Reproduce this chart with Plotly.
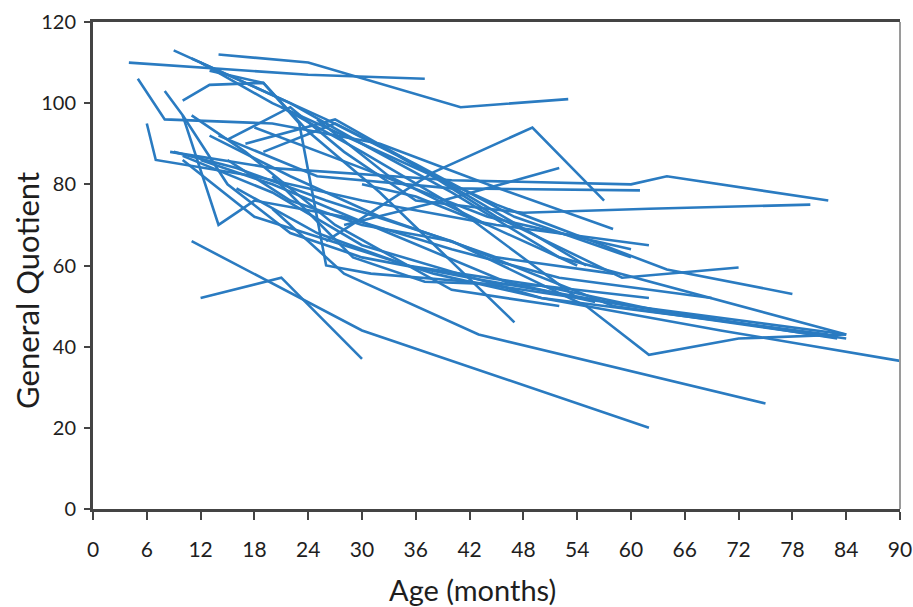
import plotly.graph_objects as go

# Each child's assessment ages (months) and General Quotient values
child_ages = [
    [4, 24, 37],
    [14, 24, 41, 53],
    [9, 14, 22, 30, 40, 52, 84],
    [11, 18, 26, 34, 42, 55],
    [5, 8, 20, 32, 44, 58],
    [6, 7, 18, 30, 45, 62],
    [8, 10, 15, 22, 30, 42, 60, 84],
    [10, 13, 19, 24, 32, 40, 47],
    [8.6, 20, 40, 60, 64, 82],
    [11, 30, 62],
    [12, 21, 30],
    [10, 14, 18, 28, 40, 52, 69],
    [26, 38, 49, 57],
    [28, 39, 52],
    [14, 25, 40, 61],
    [15, 22, 28, 36, 48, 62, 80],
    [17, 27, 35, 45, 59, 72],
    [12, 20, 30, 45, 64, 78],
    [13, 19, 23, 26, 31, 42, 60, 83],
    [9, 16, 26, 40, 55, 62, 72, 84],
    [10, 20, 30, 50, 70, 90],
    [20, 28, 43, 75],
    [16, 25, 35, 50, 65, 84],
    [10, 18, 28, 38, 50, 82],
    [13, 22, 32, 45, 58],
    [18, 30, 44, 60],
    [11, 17, 27, 40, 52],
    [20, 29, 37, 50, 62],
    [25, 33, 44],
    [15, 22, 30, 40, 58, 82],
    [19, 27, 36, 47, 60],
    [12, 20, 33, 46, 56],
    [21, 30, 40, 54],
    [30, 36, 44, 54],
]
child_gq = [
    [110, 107, 106],
    [112, 110, 99, 101],
    [113, 108, 100, 90, 78, 62, 43],
    [111, 104, 96, 87, 77, 60],
    [106, 96, 95, 90, 80, 69],
    [95, 86, 82, 76, 70, 65],
    [103, 97, 80, 68, 62, 57, 50, 43],
    [100.6, 104.5, 105, 93, 78, 61, 46],
    [88, 84, 81, 80, 82, 76],
    [66, 44, 20],
    [52, 57, 37],
    [97, 70, 76, 72, 64, 57, 52],
    [66, 83, 94, 76],
    [70, 76, 84],
    [92, 82, 79, 78.5],
    [91, 99, 88, 76, 73, 74, 75],
    [90, 96, 86, 72, 57, 59.5],
    [110, 100, 90, 75, 59, 53],
    [108, 105, 95, 60, 58, 56, 50, 42],
    [88, 84, 76, 66, 50, 38, 42, 43],
    [87, 78, 65, 52, 44, 36.5],
    [74, 58, 43, 26],
    [79, 68, 60, 55, 48, 42],
    [86, 72, 65, 58, 52, 43],
    [92, 82, 72, 62, 58],
    [94, 84, 72, 64],
    [97, 88, 70, 54, 50],
    [82, 62, 56, 55, 52],
    [96, 82, 70],
    [86, 76, 70, 66, 50, 42.5],
    [88, 95, 85, 72, 62],
    [86, 80, 68, 56, 51],
    [99, 88, 75, 52],
    [80, 77, 70, 60],
]

x_ticks = list(range(0, 91, 6))
y_ticks = list(range(0, 121, 20))

LINE_COLOR = "#2a7bc1"
FONT = "Lato"
TEXT = "#1e1e1e"

W, H = 913, 607
PL, PR, PT, PB = 93, 900, 21.5, 509.5
PW, PH = PR - PL, PB - PT

fig = go.Figure()
for ages, gq in zip(child_ages, child_gq):
    fig.add_trace(go.Scatter(
        x=ages, y=gq, mode="lines",
        line=dict(color=LINE_COLOR, width=2.6),
        hoverinfo="x+y", showlegend=False,
    ))

fig.update_layout(
    width=W, height=H,
    margin=dict(l=PL, r=W - PR, t=PT, b=H - PB),
    paper_bgcolor="white", plot_bgcolor="white",
    font=dict(family=FONT, color=TEXT),
    shapes=[dict(type="line", xref="paper", yref="paper", x0=1, x1=1, y0=0, y1=1,
                 line=dict(color="#9a9a9a", width=2))],
    annotations=[
        dict(text="Age (months)", xref="paper", yref="paper",
             x=(472 - PL) / PW, y=-(590 - PB) / PH, xanchor="center", yanchor="middle",
             showarrow=False, font=dict(size=29, family=FONT, color=TEXT)),
        dict(text="General Quotient", xref="paper", yref="paper",
             x=-(PL - 27) / PW, y=(PB - 291) / PH, xanchor="center", yanchor="middle",
             textangle=-90, showarrow=False, font=dict(size=31, family=FONT, color=TEXT)),
    ],
)
fig.update_xaxes(
    range=[0, 90], tickvals=x_ticks, ticktext=[str(v) for v in x_ticks],
    showgrid=False, zeroline=False, automargin=False,
    showline=True, linecolor="#444", linewidth=3, mirror=True,
    ticks="outside", ticklen=8, tickwidth=2, tickcolor="#444",
    ticklabelstandoff=12,
    tickfont=dict(size=21, family=FONT, color=TEXT),
)
fig.update_yaxes(
    range=[0, 120], tickvals=y_ticks, ticktext=[str(v) for v in y_ticks],
    showgrid=False, zeroline=False, automargin=False,
    showline=True, linecolor="#444", linewidth=3,
    ticks="outside", ticklen=6, tickwidth=2, tickcolor="#444",
    ticklabelstandoff=4,
    tickfont=dict(size=20, family=FONT, color=TEXT),
)

fig.write_html(
    "out.html",
    config={"displayModeBar": False},
    post_script="document.body.style.margin='0';document.documentElement.style.overflow='hidden';",
)
